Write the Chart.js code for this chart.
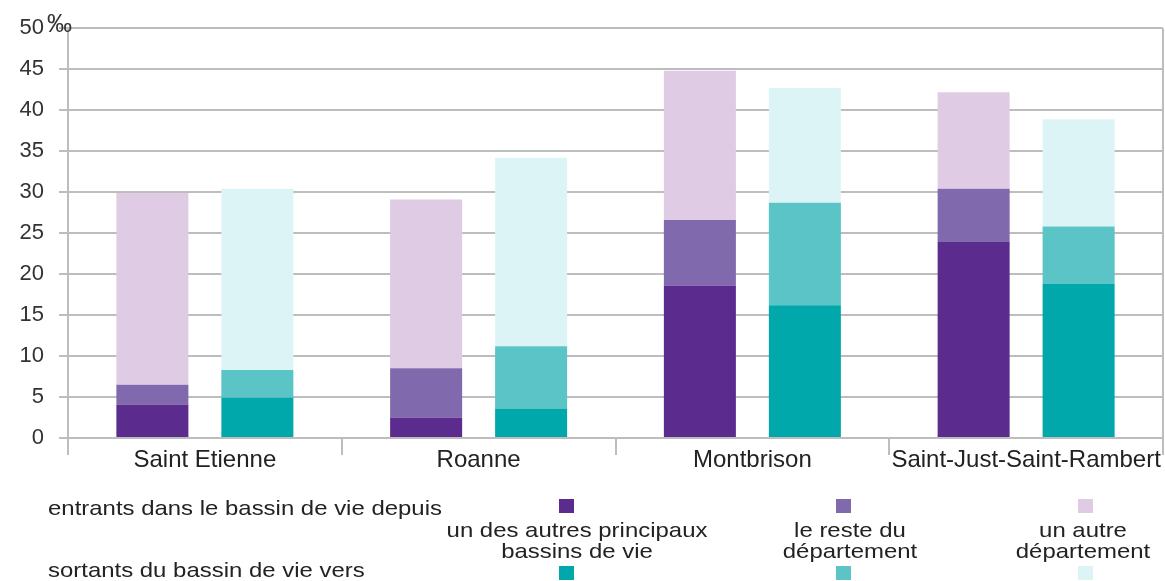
<!DOCTYPE html>
<html lang="fr">
<head>
    <meta charset="UTF-8">
    <title>Entrants et sortants des bassins de vie</title>
    <script src="https://cdn.jsdelivr.net/npm/chart.js"></script>
    <style>
        body {
            margin: 0;
            background: #fff;
            font-family: "Liberation Sans", Arial, sans-serif;
        }
        #wrap {
            position: relative;
            width: 1165px;
            height: 581px;
            overflow: hidden;
        }
        #unite {
            position: absolute;
            left: 47px;
            top: 9px;
            font-size: 25px;
            color: #333;
        }
        .ligne {
            position: absolute;
            left: 48px;
            font-size: 21px;
            line-height: 21px;
            color: #222;
            white-space: nowrap;
            transform: scaleX(1.14);
            transform-origin: left center;
        }
        .carre {
            position: absolute;
            width: 15px;
            height: 14px;
        }
        .provenance {
            position: absolute;
            width: 300px;
            margin-left: -150px;
            text-align: center;
            font-size: 21px;
            line-height: 21px;
            color: #222;
            transform: scaleX(1.14);
        }
    </style>
</head>
<body>
    <div id="wrap">
        <canvas id="bassins" width="1165" height="581"></canvas>
        <span id="unite">‰</span>
        <div id="legende"></div>
    </div>

    <script>
        // bassins de vie (axe x)
        const villes = ['Saint Etienne', 'Roanne', 'Montbrison', 'Saint-Just-Saint-Rambert'];

        // taux en pour mille
        const entrantsAutresBassins = [4.1, 2.5, 18.6, 23.9];
        const entrantsResteDep      = [2.4, 6.0, 8.0, 6.5];
        const entrantsAutreDep      = [23.4, 20.6, 18.2, 11.8];

        const sortantsAutresBassins = [4.9, 3.6, 16.2, 18.8];
        const sortantsResteDep      = [3.4, 7.6, 12.5, 7.0];
        const sortantsAutreDep      = [22.1, 23.0, 14.0, 13.1];

        const yMin = 0;
        const yMax = 50;
        const yPas = 5;

        const libellesLignes = ['entrants dans le bassin de vie depuis', 'sortants du bassin de vie vers'];
        const provenances = [
            ['un des autres principaux', 'bassins de vie'],
            ['le reste du', 'département'],
            ['un autre', 'département']
        ];
        const couleursEntrants = ['#5b2c8d', '#8069ac', '#dfcbe3'];
        const couleursSortants = ['#00a8ab', '#5bc4c6', '#ddf4f7'];

        const gris = '#bdbdbd';

        // cadre droit de la zone de tracé
        const cadreDroit = {
            id: 'cadreDroit',
            afterDatasetsDraw(chart) {
                const { ctx, chartArea } = chart;
                ctx.save();
                ctx.strokeStyle = gris;
                ctx.lineWidth = 2;
                ctx.beginPath();
                ctx.moveTo(chartArea.right, chartArea.top);
                ctx.lineTo(chartArea.right, chartArea.bottom);
                ctx.stroke();
                ctx.restore();
            }
        };

        function serie(label, data, couleur, pile) {
            return {
                label: label,
                data: data,
                backgroundColor: couleur,
                borderWidth: 0,
                stack: pile,
                categoryPercentage: 0.767,
                barPercentage: 0.686
            };
        }

        const ctx = document.getElementById('bassins').getContext('2d');
        new Chart(ctx, {
            type: 'bar',
            data: {
                labels: villes,
                datasets: [
                    serie('entrants - autres bassins', entrantsAutresBassins, couleursEntrants[0], 'entrants'),
                    serie('entrants - reste du département', entrantsResteDep, couleursEntrants[1], 'entrants'),
                    serie('entrants - autre département', entrantsAutreDep, couleursEntrants[2], 'entrants'),
                    serie('sortants - autres bassins', sortantsAutresBassins, couleursSortants[0], 'sortants'),
                    serie('sortants - reste du département', sortantsResteDep, couleursSortants[1], 'sortants'),
                    serie('sortants - autre département', sortantsAutreDep, couleursSortants[2], 'sortants')
                ]
            },
            options: {
                responsive: false,
                animation: false,
                layout: { padding: { top: 25, right: 2, bottom: 103, left: 0 } },
                plugins: {
                    legend: { display: false },
                    tooltip: { enabled: false }
                },
                scales: {
                    x: {
                        stacked: true,
                        afterFit: s => { s.height = 40; },
                        border: { display: false },
                        grid: {
                            drawOnChartArea: false,
                            color: gris,
                            lineWidth: 2,
                            tickLength: 17
                        },
                        ticks: {
                            color: '#222',
                            padding: -9,
                            maxRotation: 0,
                            autoSkip: false,
                            font: { family: '"Liberation Sans", Arial, sans-serif', size: 24 }
                        }
                    },
                    y: {
                        stacked: true,
                        min: yMin,
                        max: yMax,
                        afterFit: s => { s.width = 68; },
                        border: { color: gris, width: 2 },
                        grid: { color: gris, lineWidth: 2, tickLength: 9 },
                        ticks: {
                            stepSize: yPas,
                            color: '#333',
                            padding: 15,
                            font: { family: '"Liberation Sans", Arial, sans-serif', size: 22 }
                        }
                    }
                }
            },
            plugins: [cadreDroit]
        });

        // légende maison, en trois rangées comme l'original
        const legende = document.getElementById('legende');
        const colonnesX = [566, 843, 1085];
        const centresTexte = [577, 850, 1083];

        [497, 559].forEach((haut, i) => {
            const d = document.createElement('div');
            d.className = 'ligne';
            d.style.top = haut + 'px';
            d.textContent = libellesLignes[i];
            legende.appendChild(d);
        });

        provenances.forEach((lignes, j) => {
            const c1 = document.createElement('div');
            c1.className = 'carre';
            c1.style.left = (colonnesX[j] - 7) + 'px';
            c1.style.top = '499px';
            c1.style.background = couleursEntrants[j];
            legende.appendChild(c1);

            const c2 = document.createElement('div');
            c2.className = 'carre';
            c2.style.left = (colonnesX[j] - 7) + 'px';
            c2.style.top = '566px';
            c2.style.background = couleursSortants[j];
            legende.appendChild(c2);

            const t = document.createElement('div');
            t.className = 'provenance';
            t.style.left = centresTexte[j] + 'px';
            t.style.top = '519px';
            t.innerHTML = lignes.join('<br>');
            legende.appendChild(t);
        });
    </script>
</body>
</html>
